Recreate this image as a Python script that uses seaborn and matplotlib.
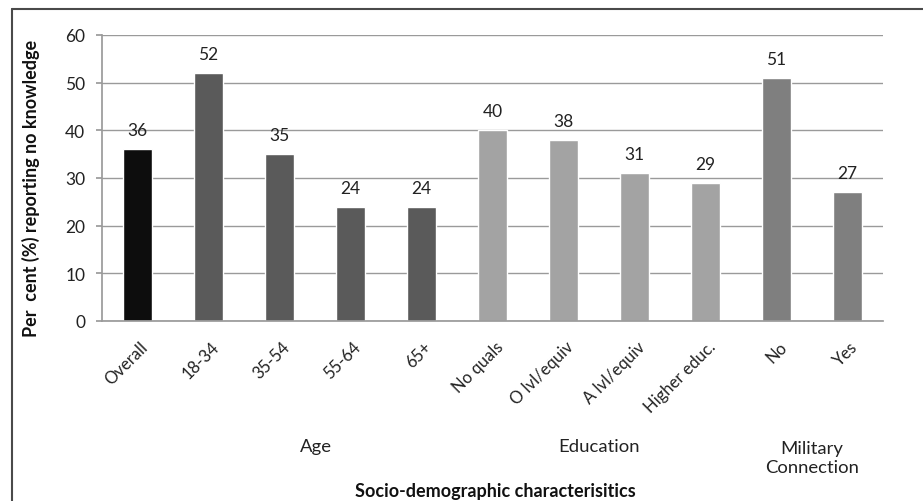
import matplotlib
matplotlib.use("Agg")
import matplotlib.pyplot as plt
from matplotlib.lines import Line2D
from matplotlib.transforms import ScaledTranslation
import seaborn as sns
import pandas as pd

# Survey results: share reporting no knowledge, by socio-demographic group
categories = ["Overall", "18-34", "35-54", "55-64", "65+",
              "No quals", "O lvl/equiv", "A lvl/equiv", "Higher educ.",
              "No", "Yes"]
values = [36, 52, 35, 24, 24, 40, 38, 31, 29, 51, 27]
groups = ["Overall", "Age", "Age", "Age", "Age",
          "Education", "Education", "Education", "Education",
          "Military", "Military"]
group_colors = {"Overall": "#0d0d0d", "Age": "#5a5a5a",
                "Education": "#a3a3a3", "Military": "#7f7f7f"}
yticks = [0, 10, 20, 30, 40, 50, 60]

df = pd.DataFrame({"category": categories, "value": values, "group": groups})
palette = {c: group_colors[g] for c, g in zip(categories, groups)}

sns.set_theme(style="white")
plt.rcParams["font.family"] = ["Lato", "DejaVu Sans"]

fig = plt.figure(figsize=(9.23, 5.02), dpi=100)
ax = fig.add_axes([102 / 923, 1 - 322 / 502, 781 / 923, 286 / 502])

sns.barplot(data=df, x="category", y="value", hue="category",
            palette=palette, order=categories, hue_order=categories,
            width=0.4, legend=False, ax=ax, saturation=1)

ax.set_ylim(0, 60)
ax.set_xlim(-0.5, len(categories) - 0.5)
ax.set_yticks(yticks)
ax.set_yticklabels([str(t) for t in yticks], fontsize=12.5, color="#222222")
ax.yaxis.grid(True, color="#9a9a9a", linewidth=1)
ax.set_axisbelow(True)
ax.tick_params(axis="y", length=4, color="#9a9a9a", pad=8, left=True)
ax.tick_params(axis="x", length=0, pad=0)

for s in ["top", "right"]:
    ax.spines[s].set_visible(False)
ax.spines["left"].set_color("#9a9a9a")
ax.spines["bottom"].set_color("#9a9a9a")

ax.set_xticks(range(len(categories)))
ax.set_xticklabels(categories, rotation=45, ha="right", va="center",
                   rotation_mode="anchor", fontsize=12, color="#222222")
shift = ScaledTranslation(8 / 100, -23 / 100, fig.dpi_scale_trans)
for lbl in ax.get_xticklabels():
    lbl.set_transform(lbl.get_transform() + shift)

for i, v in enumerate(values):
    ax.annotate(str(v), (i, v), xytext=(0, 19), textcoords="offset pixels",
                ha="center", va="center", fontsize=12.5, color="#222222")

ax.set_xlabel("")
ax.set_ylabel("Per  cent (%) reporting no knowledge", fontsize=13,
              fontweight="bold", color="#111111")
ax.yaxis.set_label_coords((40 - 102) / 781, (322 - 188) / 286)

# Group captions under the rotated category labels
fig.text(316 / 923, 1 - 447 / 502, "Age", ha="center", va="center",
         fontsize=13.3, color="#222222")
fig.text(599 / 923, 1 - 447 / 502, "Education", ha="center", va="center",
         fontsize=13.3, color="#222222")
fig.text(812 / 923, 1 - 458.5 / 502, "Military\nConnection", ha="center",
         va="center", fontsize=13.3, color="#222222", linespacing=1.3)
fig.text(495 / 923, 1 - 492 / 502, "Socio-demographic characterisitics",
         ha="center", va="center", fontsize=13, fontweight="bold",
         color="#111111")

# Outer frame (top and left edges)
fig.add_artist(Line2D([12 / 923, 1.0], [1 - 10 / 502, 1 - 10 / 502],
                      transform=fig.transFigure, color="#4a4a4a", lw=1.5))
fig.add_artist(Line2D([12 / 923, 12 / 923], [1 - 10 / 502, 0.0],
                      transform=fig.transFigure, color="#4a4a4a", lw=1.5))

fig.savefig("out.png", dpi=100, facecolor="white")
